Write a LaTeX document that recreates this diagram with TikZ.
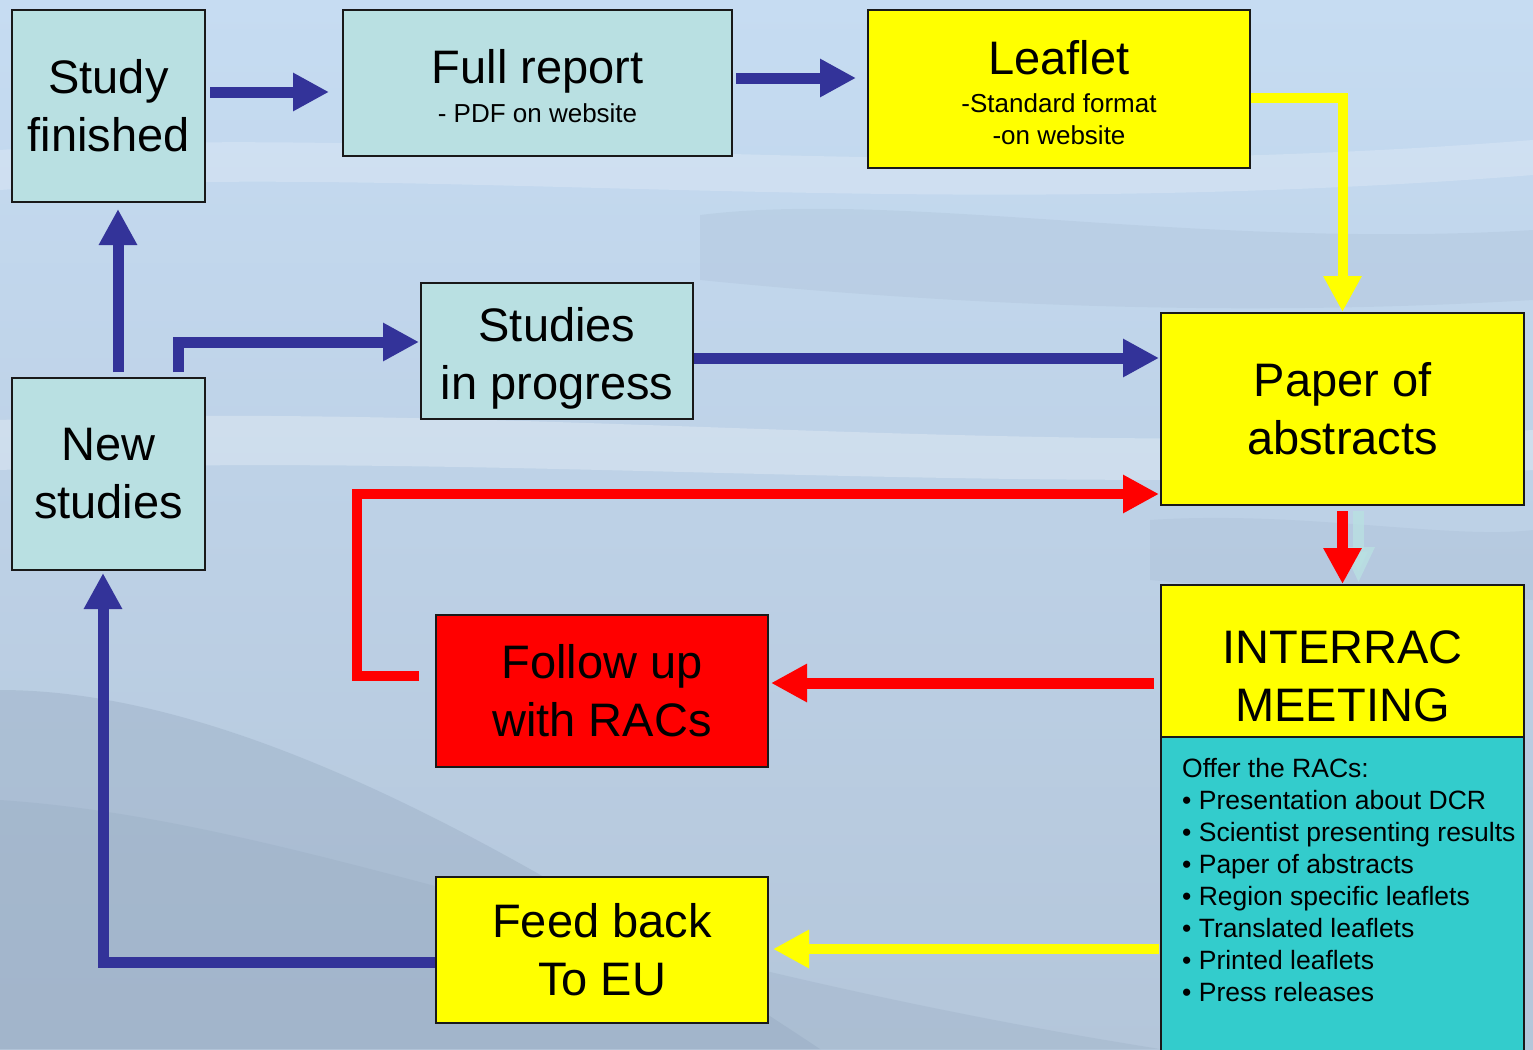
\documentclass[tikz,border=0pt]{standalone}
\usepackage{fontspec}
\setmainfont{Liberation Sans}
\usetikzlibrary{arrows.meta,calc}

\definecolor{boxteal}{HTML}{B9E0E2}
\definecolor{panelcyan}{HTML}{33CCCC}
\definecolor{arrowblue}{HTML}{333399}
\definecolor{pureyellow}{HTML}{FFFF00}
\definecolor{purered}{HTML}{FF0000}
\definecolor{waterTop}{HTML}{C6DCF2}
\definecolor{waterMid}{HTML}{DDEEFA}
\definecolor{waterLow}{HTML}{B4C6DA}
\definecolor{waterDark}{HTML}{93A7BE}

\tikzset{
    flowbox/.style={draw=black!90, line width=2pt, inner sep=0pt, align=center,
        font=\fontsize{47}{58}\selectfont},
    tealbox/.style={flowbox, fill=boxteal},
    yellowbox/.style={flowbox, fill=pureyellow},
    redbox/.style={flowbox, fill=purered},
    bluearrow/.style={draw=arrowblue, line width=11pt, -{Triangle[length=36pt,width=36pt]}},
    yellowarrow/.style={draw=pureyellow, line width=10pt, -{Triangle[length=36pt,width=36pt]}},
    redarrow/.style={draw=purered, line width=11pt, -{Triangle[length=36pt,width=36pt]}},
    ghostarrow/.style={draw=boxteal, opacity=0.8, line width=11pt, -{Triangle[length=36pt,width=30pt]}}
}

\begin{document}
\begin{tikzpicture}[x=1pt, y=-1pt]
        % water background
        \useasboundingbox (0,0) rectangle (1533,1049);
        \shade[top color=waterTop, middle color=waterMid, bottom color=waterLow] (0,0) rectangle (1533,1049);
        \fill[white, opacity=0.2] (0,150) .. controls (400,120) and (900,190) .. (1533,140) -- (1533,175) .. controls (900,225) and (400,160) .. (0,190) -- cycle;
        \fill[waterDark, opacity=0.15] (700,215) .. controls (900,190) and (1200,250) .. (1533,230) -- (1533,300) .. controls (1200,320) and (900,300) .. (700,280) -- cycle;
        \fill[white, opacity=0.25] (0,420) .. controls (500,400) and (1000,460) .. (1533,430) -- (1533,470) .. controls (1000,500) and (500,450) .. (0,470) -- cycle;
        \fill[waterDark, opacity=0.15] (1150,520) .. controls (1300,510) and (1450,540) .. (1533,530) -- (1533,600) .. controls (1400,590) and (1250,590) .. (1150,580) -- cycle;
        \fill[waterDark, opacity=0.35] (0,690) .. controls (250,690) and (550,870) .. (820,1049) -- (0,1049) -- cycle;
        \fill[waterDark, opacity=0.25] (0,800) .. controls (300,820) and (600,960) .. (1160,1049) -- (0,1049) -- cycle;

        % boxes
        \node[tealbox, minimum width=193, minimum height=192] (studyfin) at (108.5,106) {Study\\finished};
        \node[tealbox, minimum width=389, minimum height=146] (fullrep) at (537.5,83)
            {\rule{0pt}{41pt}Full report\\[-19pt]{\fontsize{26}{32}\selectfont - PDF on website}};
        \node[yellowbox, minimum width=382, minimum height=158] (leaflet) at (1059,89)
            {\rule{0pt}{42pt}Leaflet\\[-20pt]{\fontsize{26}{32}\selectfont -Standard format}\\[-26pt]{\fontsize{26}{32}\selectfont -on website}};
        \node[tealbox, minimum width=272, minimum height=136] (inprog) at (557,351) {\rule{0pt}{48pt}Studies\\in progress};
        \node[yellowbox, minimum width=363, minimum height=192] (paper) at (1342.5,409) {Paper of\\abstracts};
        \node[tealbox, minimum width=193, minimum height=192] (newstud) at (108.5,474) {New\\studies};
        \node[redbox, minimum width=332, minimum height=152] (followup) at (602,691) {Follow up\\with RACs};
        \node[yellowbox, minimum width=363, minimum height=152] (interrac) at (1342.5,661) {\rule{0pt}{64pt}INTERRAC\\MEETING};
        \node[flowbox, fill=panelcyan, minimum width=363, minimum height=330] (offer) at (1342.5,902) {};
        \node[anchor=north west, inner sep=0pt, align=left, font=\fontsize{26.5}{32}\selectfont] (offertxt)
            at ($(offer.north west)+(22,22)$)
            {Offer the RACs:\\• Presentation about DCR\\• Scientist presenting results\\• Paper of abstracts\\%
             • Region specific leaflets\\• Translated leaflets\\• Printed leaflets\\• Press releases};
        \node[yellowbox, minimum width=332, minimum height=146] (feedback) at (602,950) {Feed back\\To EU};

        % connectors
        \draw[bluearrow] ($(studyfin.east)+(4,-14)$) -- ($(fullrep.west)+(-13,9)$);
        \draw[bluearrow] ($(fullrep.east)+(3,-5)$) -- ($(leaflet.west)+(-11,-11)$);
        \draw[yellowarrow] ($(leaflet.east)+(0,9)$) -| (paper.north);
        \draw[bluearrow] ($(newstud.north)+(9.5,-5)$) -- ($(studyfin.south)+(9.5,6)$);
        \draw[bluearrow] ($(newstud.north)+(69.5,-5)$) |- ($(inprog.west)+(-1,-9)$);
        \draw[bluearrow] ($(inprog.east)+(0,7)$) -- ($(paper.west)+(-1,-51)$);
        \draw[ghostarrow] ($(paper.south)+(16,5)$) -- ($(interrac.north)+(16,-1)$);
        \draw[redarrow] ($(paper.south)+(0,5)$) -- (interrac.north);
        \draw[redarrow] ($(interrac.west)+(-6,22)$) -- ($(followup.east)+(2,-8)$);
        \draw[redarrow, line width=10pt] ($(followup.west)+(-16,-15)$) -- ++(-62,0) |- ($(paper.west)+(-1,85)$);
        \draw[yellowarrow] ($(offer.west)+(-1,47)$) -- ($(feedback.east)+(4,-1)$);
        \draw[bluearrow] ($(feedback.west)+(0,12)$) -| ($(newstud.south)+(-5.5,2)$);
\end{tikzpicture}
\end{document}
